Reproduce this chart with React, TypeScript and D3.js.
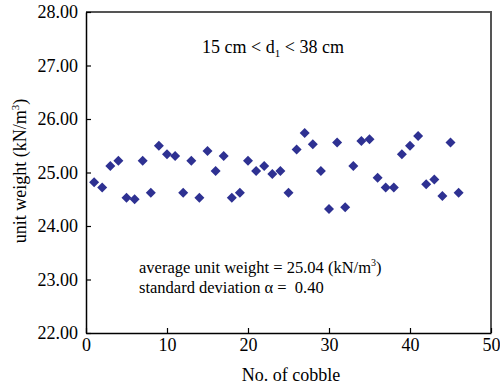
import { useEffect, useRef } from "react"
import * as d3 from "d3"

// cobble number (x) and measured unit weight in kN/m3 (y)
const cobbleNo = d3.range(1, 47)
const unitWeight = [
  24.82, 24.72, 25.12, 25.22, 24.53, 24.5, 25.22, 24.62, 25.5, 25.34,
  25.31, 24.62, 25.22, 24.53, 25.4, 25.03, 25.31, 24.53, 24.62, 25.22,
  25.03, 25.12, 24.97, 25.03, 24.62, 25.43, 25.74, 25.53, 25.03, 24.32,
  25.56, 24.35, 25.12, 25.59, 25.62, 24.9, 24.72, 24.72, 25.34, 25.5,
  25.68, 24.78, 24.87, 24.56, 25.56, 24.62,
]
const xTicks = [0, 10, 20, 30, 40, 50]
const yTicks = [22, 23, 24, 25, 26, 27, 28]

export default function App() {
  const svgRef = useRef<SVGSVGElement>(null)

  useEffect(() => {
    if (!svgRef.current) return
    d3.select(svgRef.current).selectAll("*").remove()

    const left = 86
    const right = 491
    const top = 12
    const bottom = 333
    const font = "Liberation Serif, Times New Roman, serif"
    const fs = "18px"
    const noteFs = "16.5px"

    const svg = d3.select(svgRef.current).attr("font-family", font)

    const x = d3.scaleLinear().domain([0, 50]).range([left, right])
    const y = d3.scaleLinear().domain([22, 28]).range([bottom, top])

    // frame: top and right edges grey
    svg
      .append("path")
      .attr("d", `M${left},${top}H${right}V${bottom}`)
      .attr("fill", "none")
      .attr("stroke", "#555")
      .attr("stroke-width", 2)

    // x axis
    const xAxis = svg
      .append("g")
      .attr("transform", `translate(0,${bottom})`)
      .call(d3.axisBottom(x).tickValues(xTicks).tickSizeInner(-5).tickSizeOuter(0).tickPadding(5))
    xAxis.select(".domain").attr("stroke", "#000").attr("stroke-width", 1.5)
    xAxis.selectAll("line").attr("stroke", "#000").attr("stroke-width", 1.2)
    xAxis
      .selectAll("text")
      .attr("fill", "#000")
      .style("font-family", font)
      .style("font-size", fs)

    // y axis
    const yAxis = svg
      .append("g")
      .attr("transform", `translate(${left},0)`)
      .call(
        d3
          .axisLeft(y)
          .tickValues(yTicks)
          .tickFormat(d3.format(".2f"))
          .tickSizeInner(-5)
          .tickSizeOuter(0)
          .tickPadding(8),
      )
    yAxis.select(".domain").attr("stroke", "#000").attr("stroke-width", 1.5)
    yAxis.selectAll("line").attr("stroke", "#000").attr("stroke-width", 1.2)
    yAxis
      .selectAll("text")
      .attr("fill", "#000")
      .style("font-family", font)
      .style("font-size", fs)

    // points
    const diamond = d3.symbol().type(d3.symbolSquare).size(50)
    svg
      .append("g")
      .selectAll("path")
      .data(cobbleNo)
      .enter()
      .append("path")
      .attr("d", diamond)
      .attr("transform", (d, i) => `translate(${x(d)},${y(unitWeight[i])}) rotate(45)`)
      .attr("fill", "#2e3192")

    // annotations
    const note = svg
      .append("text")
      .attr("x", 273)
      .attr("y", 53)
      .attr("text-anchor", "middle")
      .style("font-size", fs)
    note.append("tspan").text("15 cm < d")
    note.append("tspan").attr("dy", 4).style("font-size", "11px").text("1")
    note.append("tspan").attr("dy", -4).text(" < 38 cm")

    const avg = svg
      .append("text")
      .attr("x", 139)
      .attr("y", 273)
      .style("font-size", noteFs)
    avg.append("tspan").text("average unit weight = 25.04 (kN/m")
    avg.append("tspan").attr("dy", -7).style("font-size", "10px").text("3")
    avg.append("tspan").attr("dy", 7).text(")")

    svg
      .append("text")
      .attr("x", 139)
      .attr("y", 293)
      .style("font-size", noteFs)
      .style("white-space", "pre")
      .text("standard deviation \u03b1 =  0.40")

    // axis titles
    svg
      .append("text")
      .attr("x", 291)
      .attr("y", 381)
      .attr("text-anchor", "middle")
      .style("font-size", fs)
      .text("No. of cobble")

    const yl = svg
      .append("text")
      .attr("transform", `translate(26,171) rotate(-90)`)
      .attr("text-anchor", "middle")
      .style("font-size", fs)
    yl.append("tspan").text("unit weight (kN/m")
    yl.append("tspan").attr("dy", -7).style("font-size", "11px").text("3")
    yl.append("tspan").attr("dy", 7).text(")")
  }, [])

  return (
    <svg
      ref={svgRef}
      width={500}
      height={386}
      style={{ position: "absolute", left: 0, top: 0, background: "#fff" }}
    ></svg>
  )
}
